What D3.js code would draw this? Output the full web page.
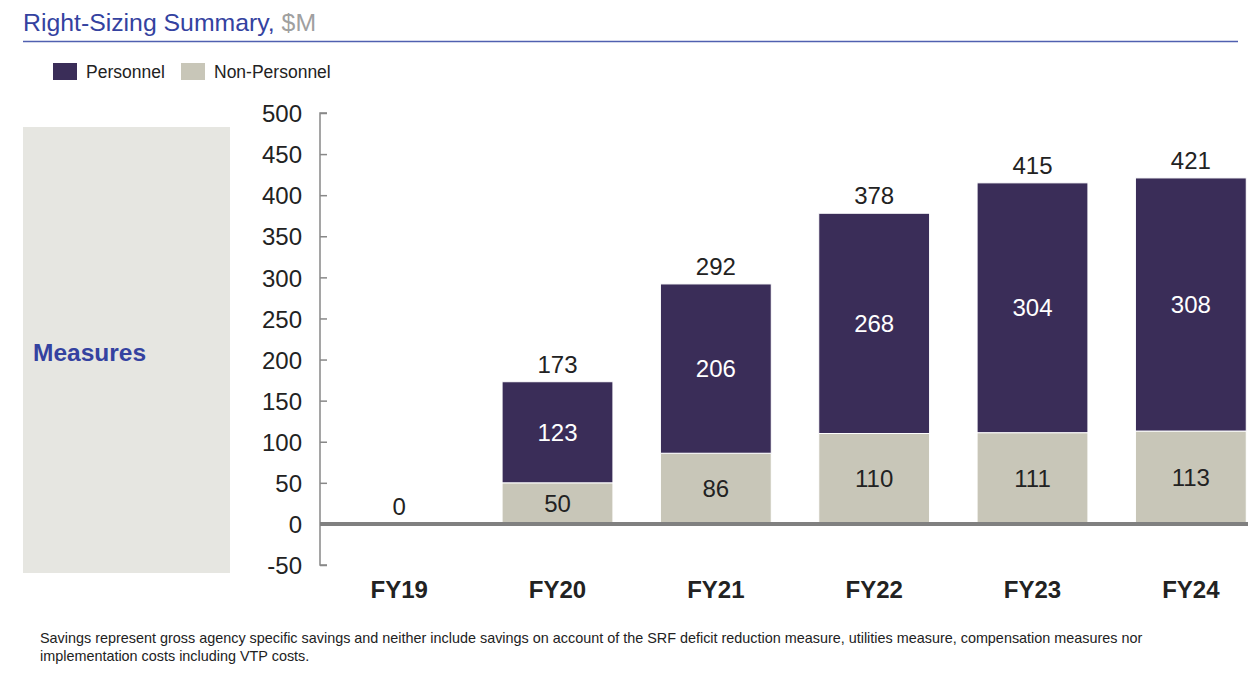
<!DOCTYPE html>
<html>
<head>
<meta charset="utf-8">
<script src="https://cdn.jsdelivr.net/npm/d3@7"></script>
<style>
  body { margin: 0; background: #fff; }
  svg { display: block; font-family: "Liberation Sans", Arial, sans-serif; }
</style>
</head>
<body>
<svg id="chart"></svg>
<script>
const years = ["FY19", "FY20", "FY21", "FY22", "FY23", "FY24"];
const nonPersonnel = [0, 50, 86, 110, 111, 113];
const personnel = [0, 123, 206, 268, 304, 308];
const totals = [0, 173, 292, 378, 415, 421];
const yTicks = [-50, 0, 50, 100, 150, 200, 250, 300, 350, 400, 450, 500];

const width = 1248;
const height = 678;
const colPersonnel = "#3a2d58";
const colNonPersonnel = "#c8c6b8";
const blue = "#3442a0";

const svg = d3.select("#chart").attr("width", width).attr("height", height);

// titre
const title = svg.append("text").attr("x", 23).attr("y", 31).style("font-size", "24.8px");
title.append("tspan").attr("fill", blue).text("Right-Sizing Summary,");
title.append("tspan").attr("fill", "#a0a0a0").text(" $M");
svg.append("line")
  .attr("x1", 23).attr("x2", 1238).attr("y1", 41.5).attr("y2", 41.5)
  .attr("stroke", "#5060b0").attr("stroke-width", 1.5);

// legende
const legend = [
  { label: "Personnel", color: colPersonnel, x: 53 },
  { label: "Non-Personnel", color: colNonPersonnel, x: 181 }
];
legend.forEach((l) => {
  svg.append("rect").attr("x", l.x).attr("y", 63).attr("width", 24).attr("height", 17).attr("fill", l.color);
  svg.append("text").attr("x", l.x + 33).attr("y", 78)
    .style("font-size", "17.5px").attr("fill", "#222").text(l.label);
});

// panneau gauche
svg.append("rect").attr("x", 23).attr("y", 127).attr("width", 207).attr("height", 446).attr("fill", "#e6e6e1");
svg.append("text").attr("x", 33).attr("y", 360.5)
  .style("font-size", "24.5px").style("font-weight", "bold").attr("fill", blue).text("Measures");

// echelles
const x = d3.scaleBand().domain(years).range([320, 1270]).paddingInner(0.3).paddingOuter(0.15);
const y = d3.scaleLinear().domain([-50, 500]).range([565, 113]);

// axe y
const yAxis = d3.axisRight(y).tickValues(yTicks).tickSize(7).tickFormat((d) => String(d));
const gy = svg.append("g").attr("transform", "translate(320,0)").call(yAxis);
gy.select(".domain").attr("stroke", "#888").attr("stroke-width", 1.5).attr("d", `M7,${y(500)}H0V${y(-50)}H7`);
gy.selectAll(".tick line").attr("stroke", "#888").attr("stroke-width", 1.5);
gy.selectAll(".tick text")
  .attr("x", -18).attr("dy", "0.36em").attr("text-anchor", "end")
  .style("font-size", "24px").attr("fill", "#222");

// barres
const stacks = years.map((yr, i) => ({ yr, np: nonPersonnel[i], p: personnel[i], total: totals[i] }));
const bars = svg.append("g");
bars.selectAll("rect.np").data(stacks.filter((d) => d.total > 0)).enter().append("rect")
  .attr("class", "np")
  .attr("x", (d) => x(d.yr)).attr("width", x.bandwidth())
  .attr("y", (d) => y(d.np)).attr("height", (d) => y(0) - y(d.np))
  .attr("fill", colNonPersonnel).attr("stroke", "#fff").attr("stroke-width", 1);
bars.selectAll("rect.p").data(stacks.filter((d) => d.total > 0)).enter().append("rect")
  .attr("class", "p")
  .attr("x", (d) => x(d.yr)).attr("width", x.bandwidth())
  .attr("y", (d) => y(d.np + d.p)).attr("height", (d) => y(d.np) - y(d.np + d.p))
  .attr("fill", colPersonnel).attr("stroke", "#fff").attr("stroke-width", 1);

// ligne zero
svg.append("line").attr("x1", 320).attr("x2", width).attr("y1", y(0)).attr("y2", y(0))
  .attr("stroke", "#808080").attr("stroke-width", 4);

// etiquettes
const cx = (d) => x(d.yr) + x.bandwidth() / 2;
const lbl = svg.append("g").style("font-size", "24px").attr("text-anchor", "middle");
lbl.selectAll("text.np").data(stacks.filter((d) => d.total > 0)).enter().append("text")
  .attr("x", cx).attr("y", (d) => y(d.np / 2) + 8.5).attr("fill", "#222").text((d) => d.np);
lbl.selectAll("text.p").data(stacks.filter((d) => d.total > 0)).enter().append("text")
  .attr("x", cx).attr("y", (d) => y(d.np + d.p / 2) + 8.5).attr("fill", "#fff").text((d) => d.p);
lbl.selectAll("text.tot").data(stacks).enter().append("text")
  .attr("x", cx).attr("y", (d) => y(d.total) - 9).attr("fill", "#222").text((d) => d.total);

// axe x
svg.append("g").selectAll("text").data(years).enter().append("text")
  .attr("x", (d) => x(d) + x.bandwidth() / 2).attr("y", 598)
  .attr("text-anchor", "middle").style("font-size", "24px").style("font-weight", "bold")
  .attr("fill", "#222").text((d) => d);

// note
const note = svg.append("text").style("font-size", "14.4px").attr("fill", "#222");
note.append("tspan").attr("x", 40).attr("y", 643)
  .text("Savings represent gross agency specific savings and neither include savings on account of the SRF deficit reduction measure, utilities measure, compensation measures nor");
note.append("tspan").attr("x", 40).attr("y", 661).text("implementation costs including VTP costs.");
</script>
</body>
</html>
